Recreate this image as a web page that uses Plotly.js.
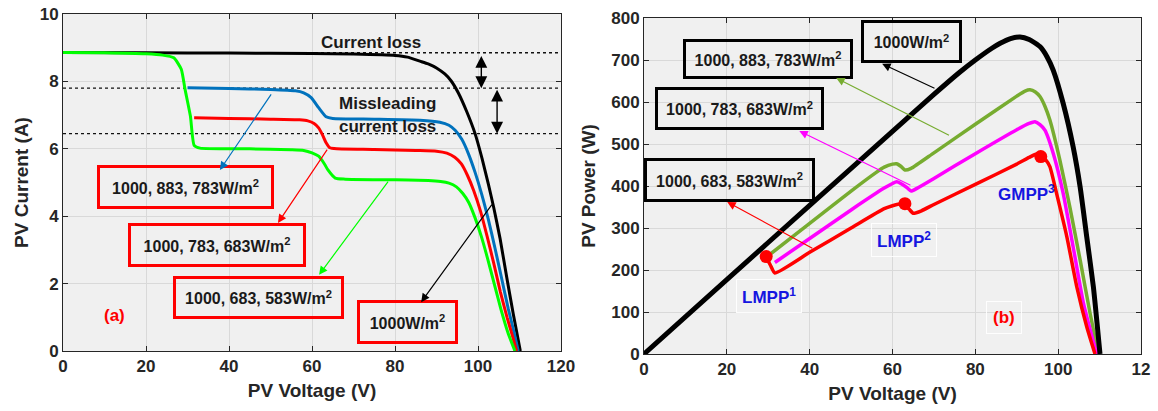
<!DOCTYPE html>
<html><head><meta charset="utf-8">
<script src="https://cdn.plot.ly/plotly-3.0.1.min.js"></script>
<style>html,body{margin:0;padding:0;background:#fff}</style>
</head><body><div id="chart" style="width:1158px;height:411px"></div>
<script>
// ---------- (a) I-V curves ----------
const vBlackIV = [0, 20, 40, 60, 70, 80, 83, 86, 88, 90, 92, 93.5, 95.3, 97.3, 99.3, 101, 102.5, 103.8, 105.3, 106.9, 108.5, 110.2];
const iBlackIV = [8.86, 8.85, 8.84, 8.83, 8.81, 8.77, 8.72, 8.6, 8.52, 8.4, 8.22, 8.02, 7.65, 7.1, 6.45, 5.7, 4.95, 4.25, 3.35, 2.2, 1.1, 0];

const vBlueIV = [30, 40, 50, 56, 58, 59.8, 61.6, 63.4, 65, 75, 86, 90.8, 93, 94.5, 96.1, 97.7, 99.3, 100.9, 102.5, 104.1, 105.7, 107.3, 108.6, 109.7];
const iBlueIV = [7.81, 7.79, 7.76, 7.72, 7.66, 7.52, 7.22, 6.95, 6.9, 6.88, 6.85, 6.79, 6.7, 6.55, 6.28, 5.85, 5.3, 4.65, 3.9, 3.05, 2.15, 1.25, 0.6, 0];

const vRedIV = [31.6, 40, 50, 57, 59, 60.5, 61.6, 62.5, 63.4, 64.3, 66, 75, 85, 90, 92.5, 94.4, 96, 97.5, 99, 100.6, 102.2, 103.8, 105.4, 107, 108.3, 109.3];
const iRedIV = [6.92, 6.9, 6.88, 6.86, 6.83, 6.75, 6.62, 6.42, 6.18, 6.03, 6.0, 5.98, 5.95, 5.93, 5.87, 5.75, 5.55, 5.2, 4.75, 4.15, 3.4, 2.6, 1.75, 1.0, 0.45, 0];

const vGreenIV = [0, 10, 20, 24, 26.7, 28.5, 29.4, 30.7, 31.6, 33, 45, 55, 58, 60, 61.6, 63, 63.8, 65.6, 68, 80, 88, 91, 93, 94.8, 96.3, 97.8, 99.3, 100.8, 102.3, 103.9, 105.5, 107.2, 108.9];
const iGreenIV = [8.86, 8.85, 8.82, 8.78, 8.7, 8.36, 7.77, 6.97, 6.1, 6.02, 6.0, 5.97, 5.95, 5.88, 5.78, 5.55, 5.38, 5.13, 5.1, 5.08, 5.06, 5.03, 4.98, 4.87, 4.68, 4.4, 3.95, 3.4, 2.75, 2.0, 1.25, 0.55, 0];

const lossLevels = [8.85, 7.8, 6.45];

// ---------- (b) P-V curves ----------
const vBlackPV = [0, 20, 40, 60, 70, 76, 80, 84, 86, 88.5, 90.8, 93, 95.6, 97.3, 98.8, 101.2, 103.6, 105.3, 106.9, 108.5, 110.1];
const pBlackPV = [0, 177, 354, 530, 618, 669, 700, 728, 740, 751, 755, 749, 732, 708, 676, 597, 494, 398, 279, 160, 0];

const vOlivePV = [30, 40, 50, 56, 58, 60, 61, 62, 63, 64.5, 70, 80, 90, 92, 93.2, 94.5, 95.6, 96.8, 98, 100.4, 102.8, 105.3, 107.7, 109.7];
const pOlivePV = [234, 311, 388, 432, 445, 452, 453, 447, 438, 442, 479, 547, 614, 626, 629, 624, 613, 590, 557, 462, 351, 224, 97, 0];

const vMagentaPV = [31.6, 40, 50, 58, 60, 61, 62, 63.5, 64.5, 66, 70, 80, 90, 93, 94.4, 95.6, 96.8, 98.8, 101.2, 103.6, 106.1, 109.3];
const pMagentaPV = [218, 275, 343, 395, 406, 410, 406, 396, 388, 395, 418, 477, 534, 549, 553, 546, 533, 478, 383, 256, 121, 0];

const vRedPV = [29.4, 30.5, 31.6, 40, 50, 58, 60, 61.6, 63, 64, 65, 67, 70, 80, 90, 93, 94.8, 95.6, 97, 98, 99.6, 102.1, 104.5, 106.9, 108.9];
const pRedPV = [232, 212, 193, 242, 300, 346, 353, 357, 354, 345, 335, 341, 356, 404, 452, 468, 476, 474, 462, 446, 383, 279, 160, 65, 0];

const mppV = [29.5, 63, 95.8];
const mppP = [232, 358, 470];
const mppLabels = ['LMPP<sup>1</sup>', 'LMPP<sup>2</sup>', 'GMPP<sup>3</sup>'];

const xTickVals = [0, 20, 40, 60, 80, 100, 120];
const xTickTextA = ['0', '20', '40', '60', '80', '100', '120'];
const xTickTextB = ['0', '20', '40', '60', '80', '100', '12'];

const FONT = 'Liberation Sans, Arial, sans-serif';
const INK = '#262626';

function line(x, y, color, width, xa, ya, extra) {
  return Object.assign({x: x, y: y, xaxis: xa, yaxis: ya, type: 'scatter', mode: 'lines',
    line: {color: color, width: width, shape: 'spline', smoothing: 0.5}, hoverinfo: 'skip', showlegend: false}, extra || {});
}

const traces = [];
lossLevels.forEach(l => traces.push(line([0, 120], [l, l], '#111', 1.4, 'x', 'y', {line: {color: '#111', width: 1.4, dash: 'dot'}})));
traces.push(line(vBlackIV, iBlackIV, '#000000', 3, 'x', 'y'));
traces.push(line(vBlueIV, iBlueIV, '#0072BD', 3, 'x', 'y'));
traces.push(line(vRedIV, iRedIV, '#FF0000', 3, 'x', 'y'));
traces.push(line(vGreenIV, iGreenIV, '#00FF00', 3, 'x', 'y'));

traces.push(line(vOlivePV, pOlivePV, '#77AC30', 3.5, 'x2', 'y2'));
traces.push(line(vMagentaPV, pMagentaPV, '#FF00FF', 3.5, 'x2', 'y2'));
traces.push(line(vRedPV, pRedPV, '#FF0000', 3.5, 'x2', 'y2'));
traces.push(line(vBlackPV, pBlackPV, '#000000', 5, 'x2', 'y2'));
traces.push({x: mppV, y: mppP, xaxis: 'x2', yaxis: 'y2', type: 'scatter', mode: 'markers',
  marker: {color: '#FF0000', size: 13}, hoverinfo: 'skip', showlegend: false});

function axisBase(extra) {
  return Object.assign({
    showline: true, mirror: 'ticks', linecolor: INK, linewidth: 1,
    ticks: 'inside', ticklen: 5, tickcolor: INK, tickwidth: 1,
    showgrid: true, gridcolor: '#d9d9d9', gridwidth: 1, zeroline: false,
    tickfont: {family: FONT, size: 17, color: INK, weight: 'bold'},
    fixedrange: true
  }, extra);
}
const titleFont = {family: FONT, size: 19, color: INK, weight: 'bold'};

const txtFont = (size, color) => ({family: FONT, size: size, color: color, weight: 'bold'});

function box(xr, yr, x, y, text, w, h, bc) {
  return {xref: xr, yref: yr, x: x, y: y, text: text, showarrow: false, width: w, height: h,
    bordercolor: bc, borderwidth: 3, borderpad: 0, align: 'center', valign: 'middle',
    font: txtFont(16, '#1a1a1a')};
}
function arrow(xr, yr, x, y, ax, ay, color, both) {
  return {xref: xr, yref: yr, axref: xr, ayref: yr, x: x, y: y, ax: ax, ay: ay, text: '',
    showarrow: true, arrowhead: 2, arrowsize: both ? 1.7 : 1.4, arrowwidth: both ? 1.4 : 1.2,
    arrowcolor: color, arrowside: both ? 'end+start' : 'end', standoff: 0, startstandoff: 0};
}
function label(xr, yr, x, y, text, size, color, extra) {
  return Object.assign({xref: xr, yref: yr, x: x, y: y, text: text, showarrow: false,
    font: txtFont(size, color)}, extra || {});
}

const sq = 'W/m<sup>2</sup>';
const annotations = [
  label('x', 'y', 74.2, 9.14, 'Current loss', 17, '#1a1a1a'),
  label('x', 'y', 78.1, 7.33, 'Missleading', 17, '#1a1a1a'),
  label('x', 'y', 78.1, 6.65, 'current loss', 17, '#1a1a1a'),
  box('x', 'y', 29.6, 4.88, '1000, 883, 783' + sq, 171, 38, '#FF0000'),
  box('x', 'y', 37.0, 3.16, '1000, 783, 683' + sq, 172, 38, '#FF0000'),
  box('x', 'y', 47.2, 1.60, '1000, 683, 583' + sq, 165, 37, '#FF0000'),
  box('x', 'y', 82.9, 0.875, '1000' + sq, 95, 38, '#FF0000'),
  label('x', 'y', 12.4, 1.06, '(a)', 17, '#FF0000'),
  arrow('x', 'y', 37.8, 5.37, 50.4, 7.66, '#0072BD'),
  arrow('x', 'y', 51.8, 3.80, 63.9, 6.02, '#FF0000'),
  arrow('x', 'y', 61.7, 2.26, 78.6, 5.07, '#00FF00'),
  arrow('x', 'y', 86.3, 1.45, 103.6, 4.39, '#000000'),
  arrow('x', 'y', 100.8, 7.8, 100.8, 8.8, '#000000', true),
  arrow('x', 'y', 104.6, 6.45, 104.6, 7.8, '#000000', true),

  box('x2', 'y2', 64.5, 743, '1000' + sq, 95, 37, '#000000'),
  box('x2', 'y2', 30.0, 703, '1000, 883, 783' + sq, 164, 34, '#000000'),
  box('x2', 'y2', 23.1, 585, '1000, 783, 683' + sq, 163, 37, '#000000'),
  box('x2', 'y2', 20.7, 414.5, '1000, 683, 583' + sq, 165, 38, '#000000'),
  arrow('x2', 'y2', 57.5, 691, 70.5, 631, '#000000'),
  arrow('x2', 'y2', 46.4, 657, 74.0, 519, '#77AC30'),
  arrow('x2', 'y2', 37.5, 531, 64.7, 400, '#FF00FF'),
  arrow('x2', 'y2', 20.1, 362, 41.0, 250, '#FF0000'),
  label('x2', 'y2', 30.3, 138, mppLabels[0], 17, '#1515E0', {bordercolor: 'rgba(255,255,255,0.9)', borderwidth: 1, borderpad: 5}),
  label('x2', 'y2', 62.8, 272, mppLabels[1], 17, '#1515E0', {bordercolor: 'rgba(255,255,255,0.9)', borderwidth: 1, borderpad: 5}),
  label('x2', 'y2', 92.3, 384, mppLabels[2], 17, '#1515E0'),
  label('x2', 'y2', 86.9, 87, '(b)', 17, '#FF0000', {bordercolor: 'rgba(255,255,255,0.9)', borderwidth: 1, borderpad: 6})
];

const layout = {
  width: 1158, height: 411,
  margin: {l: 0, r: 0, t: 0, b: 0},
  paper_bgcolor: '#ffffff', plot_bgcolor: '#f0f0f0',
  showlegend: false,
  xaxis: axisBase({domain: [63 / 1158, 561 / 1158], range: [0, 120], anchor: 'y',
    tickvals: xTickVals, ticktext: xTickTextA,
    title: {text: 'PV Voltage (V)', font: titleFont, standoff: 8}}),
  yaxis: axisBase({domain: [60 / 411, 397 / 411], range: [0, 10], anchor: 'x', dtick: 2,
    title: {text: 'PV Current (A)', font: titleFont, standoff: 6}}),
  xaxis2: axisBase({domain: [644 / 1158, 1141 / 1158], range: [0, 120], anchor: 'y2',
    tickvals: xTickVals, ticktext: xTickTextB,
    title: {text: 'PV Voltage (V)', font: titleFont, standoff: 8}}),
  yaxis2: axisBase({domain: [57 / 411, 393 / 411], range: [0, 800], anchor: 'x2', dtick: 100,
    title: {text: 'PV Power (W)', font: titleFont, standoff: 10}}),
  annotations: annotations
};

Plotly.newPlot('chart', traces, layout, {staticPlot: true, displayModeBar: false});
</script></body></html>
